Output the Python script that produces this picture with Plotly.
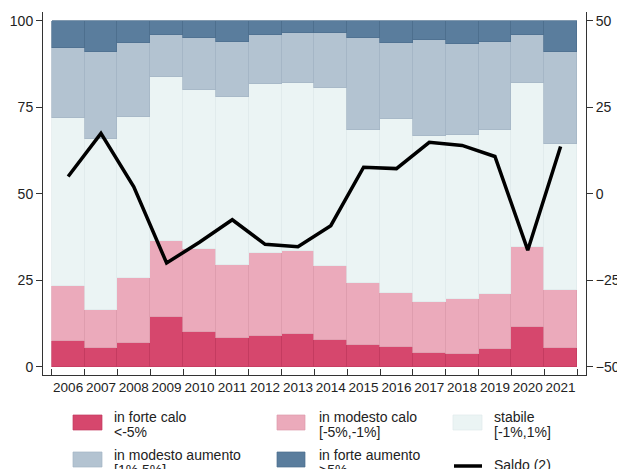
import plotly.graph_objects as go

# ---------------- data ----------------
years = [str(y) for y in range(2006, 2022)]

forte_calo      = [7.3, 5.4, 7.0, 14.4, 9.9, 8.2, 9.0, 9.5, 7.7, 6.4, 5.8, 4.0, 3.8, 5.0, 11.6, 5.5]
modesto_calo    = [16.0, 11.1, 18.8, 22.0, 24.2, 21.1, 23.9, 23.9, 21.3, 17.7, 15.5, 14.6, 15.7, 16.1, 23.0, 16.7]
stabile         = [48.6, 49.5, 46.5, 47.3, 46.0, 48.8, 48.9, 48.6, 51.7, 44.4, 50.4, 48.2, 47.4, 47.4, 47.4, 42.2]
modesto_aumento = [20.2, 25.1, 21.3, 12.3, 15.1, 15.7, 14.2, 14.4, 15.7, 26.5, 22.0, 27.7, 26.4, 25.5, 14.0, 26.7]
forte_aumento   = [7.9, 8.9, 6.4, 4.0, 4.8, 6.2, 4.0, 3.6, 3.6, 5.0, 6.3, 5.5, 6.7, 6.0, 4.0, 8.9]
saldo           = [5.0, 17.5, 2.0, -20.0, -14.0, -7.5, -14.6, -15.3, -9.2, 7.7, 7.3, 14.9, 14.0, 10.8, -16.3, 13.7]

left_ticks = [0, 25, 50, 75, 100]
right_ticks = [-50, -25, 0, 25, 50]

series = [
    ("in forte calo", "<-5%", forte_calo, "#d6476d", "#c23a5f"),
    ("in modesto calo", "[-5%,-1%]", modesto_calo, "#ebaabb", "#dd9bad"),
    ("stabile", "[-1%,1%]", stabile, "#ebf4f4", "#dfeaeb"),
    ("in modesto aumento", "[1%,5%]", modesto_aumento, "#b3c3d1", "#a4b5c4"),
    ("in forte aumento", ">5%", forte_aumento, "#5a7d9d", "#4c6e8d"),
]
saldo_name = "Saldo (2)"

FONT = "Liberation Sans, Arial, sans-serif"
TXT = "#222222"

fig = go.Figure()
for name, sub, vals, col, lc in series:
    fig.add_trace(go.Bar(
        x=years, y=vals, name=name,
        marker=dict(color=col, line=dict(color=lc, width=0.7)),
        showlegend=False,
    ))
fig.add_trace(go.Scatter(
    x=years, y=saldo, name=saldo_name, yaxis="y2", mode="lines",
    line=dict(color="black", width=3.5), showlegend=False,
))

# ---------------- layout ----------------
W, H = 617, 469
L, R, T, B = 43, 586, 12, 375

def px(x):
    return (x - L) / (R - L)

def py(y):
    return (B - y) / (B - T)

shapes = []
annotations = []
# legend grid: (column swatch x0, x1, text x), rows (swatch y0, y1, text line1 y, line2 y)
cols = [(73, 102, 112), (277, 305, 317), (453, 482, 492)]
rows = [(415, 430, 417, 432), (452, 467, 455, 470)]
entries = [(s[0], s[1], s[3], s[4]) for s in series]
order = [entries[0], entries[1], entries[2], entries[3], entries[4], None]
for i, ent in enumerate(order):
    r, c = divmod(i, 3)
    sx0, sx1, tx = cols[c]
    sy0, sy1, ty1, ty2 = rows[r]
    if ent is None:
        shapes.append(dict(type="line", xref="paper", yref="paper",
                           x0=px(sx0 + 1), x1=px(sx1), y0=py(466), y1=py(466),
                           line=dict(color="black", width=3.5)))
        annotations.append(dict(x=px(tx), y=py(465), xref="paper", yref="paper",
                                text=saldo_name, showarrow=False, xanchor="left",
                                yanchor="middle", font=dict(size=14, color=TXT, family=FONT)))
        continue
    name, sub, col, lc = ent
    shapes.append(dict(type="rect", xref="paper", yref="paper",
                       x0=px(sx0), x1=px(sx1), y0=py(sy1), y1=py(sy0),
                       fillcolor=col, line=dict(color=lc, width=0.7)))
    annotations.append(dict(x=px(tx), y=py(ty1), xref="paper", yref="paper",
                            text=name, showarrow=False, xanchor="left", yanchor="middle",
                            font=dict(size=14, color=TXT, family=FONT)))
    annotations.append(dict(x=px(tx), y=py(ty2), xref="paper", yref="paper",
                            text=sub, showarrow=False, xanchor="left", yanchor="middle",
                            font=dict(size=14, color=TXT, family=FONT)))

fig.update_layout(
    width=W, height=H,
    margin=dict(l=L, r=W - R, t=T, b=H - B, pad=0, autoexpand=False),
    paper_bgcolor="white", plot_bgcolor="white",
    barmode="stack", bargap=0,
    showlegend=False,
    font=dict(family=FONT, size=14, color=TXT),
    xaxis=dict(
        type="category", range=[-0.765, 15.774],
        tickson="boundaries", ticks="inside", ticklen=6, tickcolor="#333",
        tickangle=0, automargin=False,
        showline=True, linecolor="#333", linewidth=1,
        showgrid=False, zeroline=False,
        tickfont=dict(size=13.5, color=TXT, family=FONT),
    ),
    yaxis=dict(
        range=[-2.4, 102.6], tickvals=left_ticks, automargin=False,
        ticks="outside", ticklen=6, tickcolor="#333",
        showline=True, linecolor="#333", linewidth=1,
        showgrid=False, zeroline=False,
        tickfont=dict(size=14, color=TXT, family=FONT),
    ),
    yaxis2=dict(
        overlaying="y", side="right", automargin=False,
        range=[-52.4, 52.6], tickvals=right_ticks,
        ticks="outside", ticklen=6, tickcolor="#333",
        showline=True, linecolor="#333", linewidth=1,
        showgrid=False, zeroline=False,
        tickfont=dict(size=14, color=TXT, family=FONT),
    ),
    shapes=shapes,
    annotations=annotations,
)

fig.write_html(
    "out.html",
    config={"displayModeBar": False},
    post_script="document.body.style.margin='0px';document.body.style.padding='0px';",
)
